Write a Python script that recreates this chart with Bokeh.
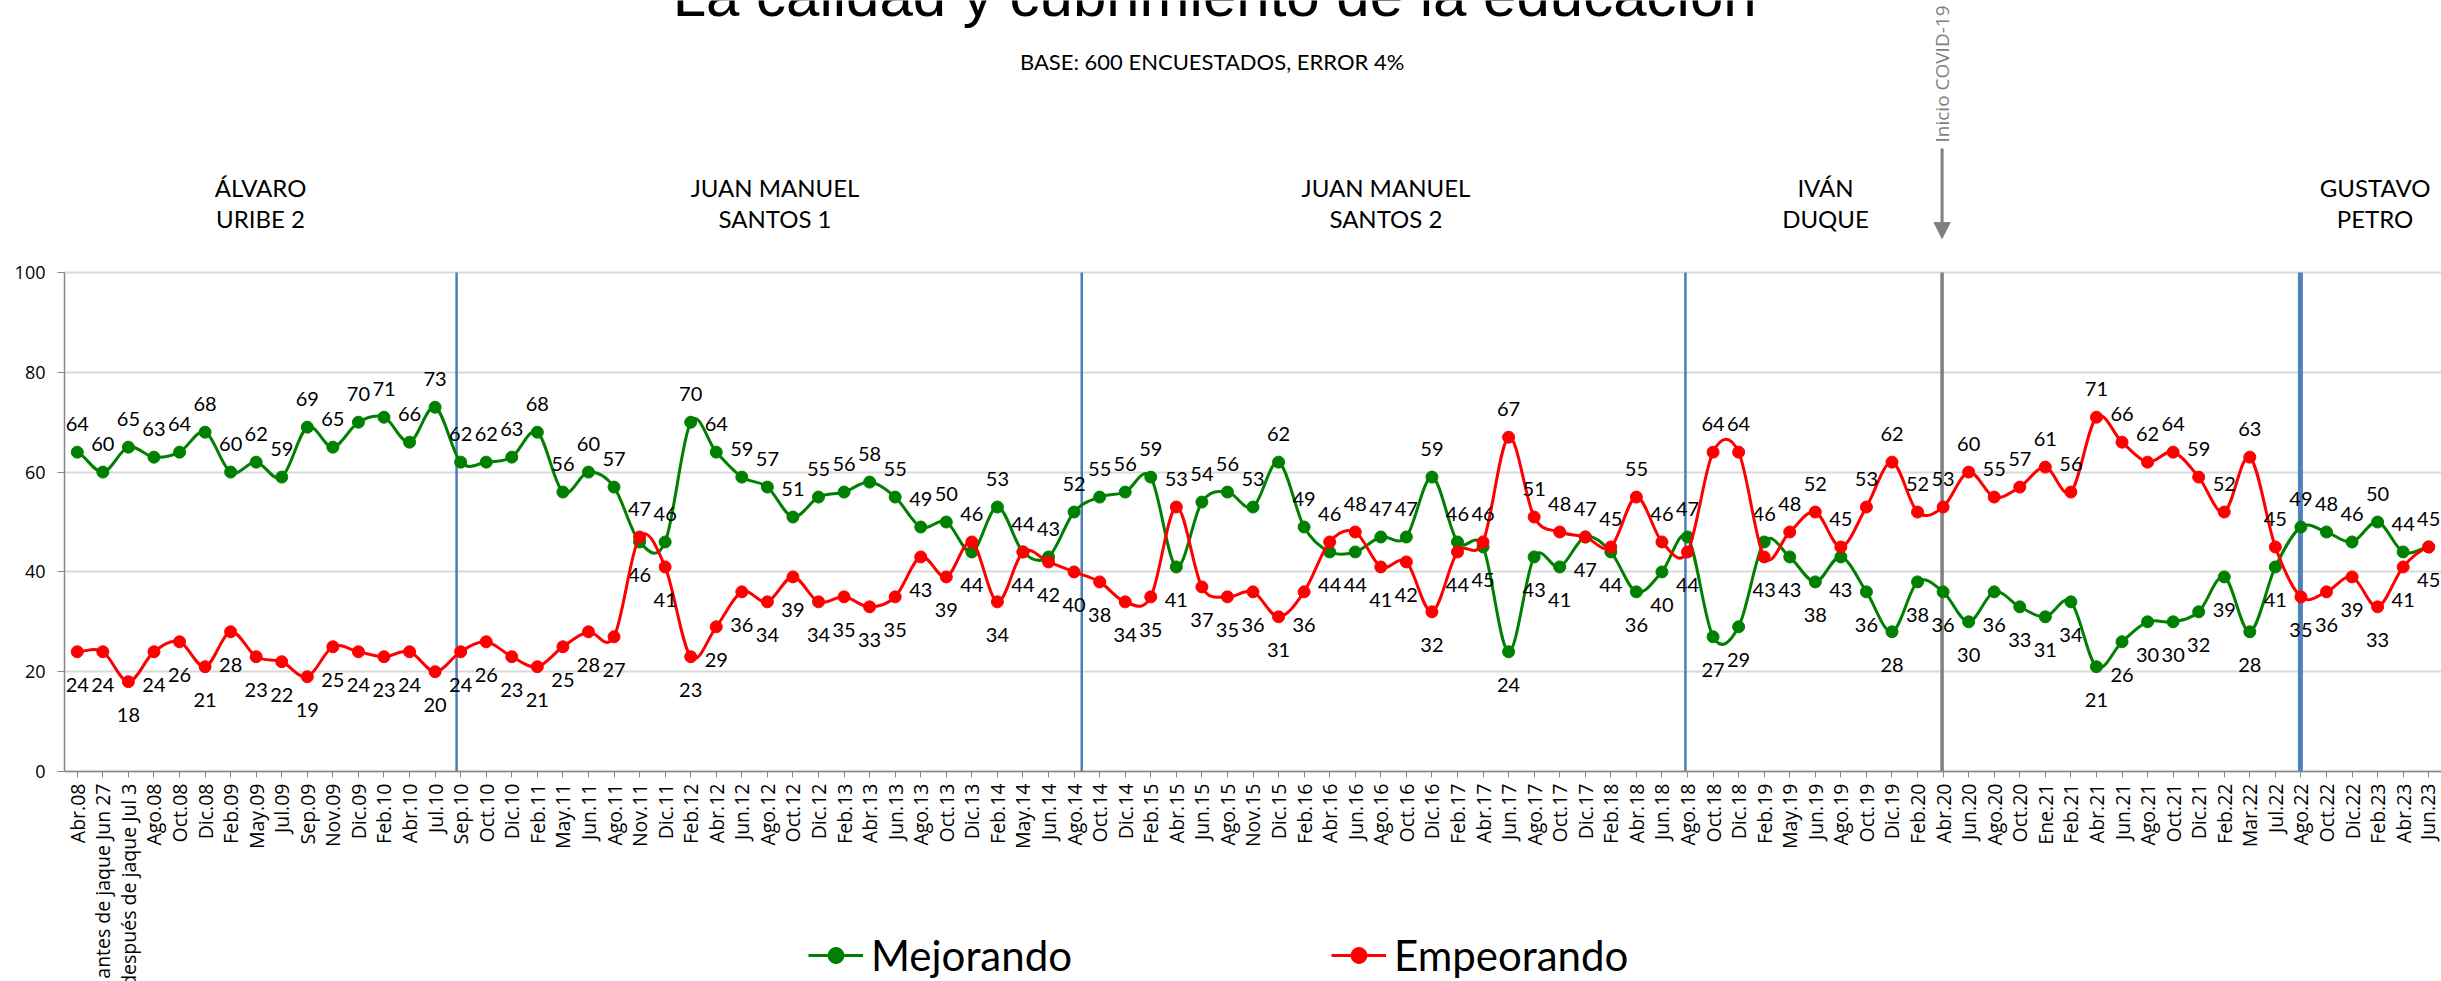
import math
from bokeh.plotting import figure
from bokeh.models import (ColumnDataSource, FactorRange, Range1d, Legend, LegendItem,
                          Arrow, NormalHead, FixedTicker)
from bokeh.core.properties import value
from bokeh.embed import file_html
from bokeh.resources import INLINE

# ---------------- data ----------------
categories = [
    "Abr.08", "antes de jaque Jun 27", "después de jaque Jul 3", "Ago.08", "Oct.08", "Dic.08",
    "Feb.09", "May.09", "Jul.09", "Sep.09", "Nov.09", "Dic.09", "Feb.10", "Abr.10", "Jul.10",
    "Sep.10", "Oct.10", "Dic.10", "Feb.11", "May.11", "Jun.11", "Ago.11", "Nov.11", "Dic.11",
    "Feb.12", "Abr.12", "Jun.12", "Ago.12", "Oct.12", "Dic.12", "Feb.13", "Abr.13", "Jun.13",
    "Ago.13", "Oct.13", "Dic.13", "Feb.14", "May.14", "Jun.14", "Ago.14", "Oct.14", "Dic.14",
    "Feb.15", "Abr.15", "Jun.15", "Ago.15", "Nov.15", "Dic.15", "Feb.16", "Abr.16", "Jun.16",
    "Ago.16", "Oct.16", "Dic.16", "Feb.17", "Abr.17", "Jun.17", "Ago.17", "Oct.17", "Dic.17",
    "Feb.18", "Abr.18", "Jun.18", "Ago.18", "Oct.18", "Dic.18", "Feb.19", "May.19", "Jun.19",
    "Ago.19", "Oct.19", "Dic.19", "Feb.20", "Abr.20", "Jun.20", "Ago.20", "Oct.20", "Ene.21",
    "Feb.21", "Abr.21", "Jun.21", "Ago.21", "Oct.21", "Dic.21", "Feb.22", "Mar.22", "Jul.22",
    "Ago.22", "Oct.22", "Dic.22", "Feb.23", "Abr.23", "Jun.23",
]

mejorando = [
    64, 60, 65, 63, 64, 68, 60, 62, 59, 69, 65, 70, 71, 66, 73,
    62, 62, 63, 68, 56, 60, 57, 46, 46,
    70, 64, 59, 57, 51, 55, 56, 58, 55, 49, 50, 44, 53, 44, 43,
    52, 55, 56, 59, 41, 54, 56, 53, 62, 49, 44, 44, 47, 47, 59, 46, 45, 24, 43, 41, 47,
    44, 36, 40, 47,
    27, 29, 46, 43, 38, 43, 36, 28, 38,
    36, 30, 36, 33, 31, 34, 21, 26, 30, 30, 32, 39, 28, 41,
    49, 48, 46, 50, 44, 45,
]

empeorando = [
    24, 24, 18, 24, 26, 21, 28, 23, 22, 19, 25, 24, 23, 24, 20,
    24, 26, 23, 21, 25, 28, 27, 47, 41,
    23, 29, 36, 34, 39, 34, 35, 33, 35, 43, 39, 46, 34, 44, 42,
    40, 38, 34, 35, 53, 37, 35, 36, 31, 36, 46, 48, 41, 42, 32, 44, 46, 67, 51, 48, 47,
    45, 55, 46, 44,
    64, 64, 43, 48, 52, 45, 53, 62, 52,
    53, 60, 55, 57, 61, 56, 71, 66, 62, 64, 59, 52, 63, 45,
    35, 36, 39, 33, 41, 45,
]

series_names = ["Mejorando", "Empeorando"]
y_ticks = [0, 20, 40, 60, 80, 100]

presidents_l1 = ["ÁLVARO", "JUAN MANUEL", "JUAN MANUEL", "IVÁN", "GUSTAVO"]
presidents_l2 = ["URIBE 2", "SANTOS 1", "SANTOS 2", "DUQUE", "PETRO"]
era_start = ["Sep.10", "Ago.14", "Ago.18", "Ago.22"]
covid_start = "Abr.20"

title_text = "La calidad y cubrimiento de la educación"
subtitle_text = "BASE: 600 ENCUESTADOS, ERROR 4%"
covid_text = "Inicio COVID-19"

# ---------------- layout / styling ----------------
GREEN = "#008000"
RED = "#FF0000"
n = len(categories)


def fx(s):
    """synthetic categorical position -> (factor, offset)"""
    i = min(max(int(s), 0), n - 1)
    return (categories[i], s - i - 0.5)


p = figure(
    x_range=FactorRange(factors=categories, range_padding=0),
    y_range=Range1d(-42.08, 154.51),
    width=2441, height=981,
    output_backend="svg", toolbar_location=None,
    min_border_left=64, min_border_right=0, min_border_top=0, min_border_bottom=0,
)
p.outline_line_color = None
p.xgrid.visible = False
p.ygrid.ticker = FixedTicker(ticks=y_ticks)
p.ygrid.grid_line_color = "#d9d9d9"
p.ygrid.grid_line_width = 2

p.yaxis.ticker = FixedTicker(ticks=y_ticks)
p.yaxis.bounds = (0, 100)
p.yaxis.axis_line_color = "#868686"
p.yaxis.axis_line_width = 1.5
p.yaxis.major_tick_line_color = "#868686"
p.yaxis.major_tick_out = 7
p.yaxis.major_tick_in = 0
p.yaxis.minor_tick_line_color = None
p.yaxis.major_label_text_font = "Open Sans"
p.yaxis.major_label_text_font_size = "18px"
p.yaxis.major_label_text_color = "#000000"
p.yaxis.major_label_standoff = 12

p.xaxis.fixed_location = 0
p.xaxis.axis_line_color = "#868686"
p.xaxis.axis_line_width = 1.5
p.xaxis.major_tick_line_color = "#868686"
p.xaxis.major_tick_out = 6
p.xaxis.major_tick_in = 0
p.xaxis.major_label_orientation = math.pi / 2
p.xaxis.major_label_text_font = "Open Sans"
p.xaxis.major_label_text_font_size = "19.5px"
p.xaxis.major_label_text_color = "#000000"
p.xaxis.major_label_standoff = 6

# era separators (from y=0 to y=100)
sep_src = ColumnDataSource(dict(
    x=[(era_start[0], -0.16), (era_start[1], 0.3), (era_start[2], -0.08),
       (covid_start, -0.04), (era_start[3], -0.02)],
    y0=[0] * 5, y1=[100] * 5,
    c=["#4a7ebb", "#4a7ebb", "#4a7ebb", "#808080", "#4f81bd"],
    w=[2.5, 2.5, 2.5, 3.5, 5],
))
p.segment(x0="x", x1="x", y0="y0", y1="y1", line_color="c", line_width="w", source=sep_src)


def curve_source(vals):
    d = dict(x0=[], x1=[], cx0=[], cx1=[], y0=[], y1=[], cy0=[], cy1=[])
    for i in range(n - 1):
        a = vals[i - 1] if i > 0 else vals[i]
        b = vals[i]
        c = vals[i + 1]
        e = vals[i + 2] if i + 2 < n else vals[i + 1]
        d["x0"].append(categories[i])
        d["x1"].append(categories[i + 1])
        d["cx0"].append((categories[i], 1 / 3))
        d["cx1"].append((categories[i + 1], -1 / 3))
        d["y0"].append(b)
        d["y1"].append(c)
        d["cy0"].append(b + (c - a) / 6)
        d["cy1"].append(c - (e - b) / 6)
    return ColumnDataSource(d)


renderers = {}
for name, vals, other, col in [("Mejorando", mejorando, empeorando, GREEN),
                               ("Empeorando", empeorando, mejorando, RED)]:
    curve = p.bezier(x0="x0", y0="y0", x1="x1", y1="y1", cx0="cx0", cy0="cy0",
                     cx1="cx1", cy1="cy1", source=curve_source(vals),
                     line_color=col, line_width=3)
    pts = p.scatter(x=categories, y=vals, size=12, fill_color=col, line_color=col)
    renderers[name] = [curve, pts]
    if name == "Mejorando":
        offs = [-28 if v >= o else 33 for v, o in zip(vals, other)]
    else:
        offs = [-28 if v > o else 33 for v, o in zip(vals, other)]
    lsrc = ColumnDataSource(dict(x=categories, y=vals, t=[str(v) for v in vals], off=offs))
    p.text(x="x", y="y", text="t", y_offset="off", source=lsrc, text_align="center",
           text_baseline="middle", text_font=value("Lato"), text_font_size="20px",
           text_color="#000000")

legend = Legend(
    items=[LegendItem(label=nm, renderers=renderers[nm]) for nm in series_names],
    location=(744, 1), orientation="horizontal", spacing=259,
    glyph_width=55, glyph_height=40, label_height=40, label_standoff=8,
    label_text_font="Lato", label_text_font_size="42px", label_text_color="#000000",
    border_line_color=None, background_fill_alpha=0, padding=0, margin=0,
)
p.add_layout(legend)

# title & subtitle
p.text(x=[fx(45.0)], y=[151.9], y_offset=-18, text=[title_text],
       text_font=value("Liberation Sans"), text_font_size="60px", text_align="center",
       text_baseline="alphabetic", text_color="#000000")
p.text(x=[fx(44.9)], y=[142.3], text=[subtitle_text], text_font=value("Lato"),
       text_font_size="22px", text_align="center", text_baseline="middle",
       text_color="#000000")

# president headers
pres_x = [fx(s) for s in [7.67, 27.8, 51.7, 68.9, 90.4]]
p.text(x=pres_x, y=[117.0] * 5, text=presidents_l1, text_font=value("Lato"),
       text_font_size="24px", text_align="center", text_baseline="middle",
       text_color="#000000")
p.text(x=pres_x, y=[110.8] * 5, text=presidents_l2, text_font=value("Lato"),
       text_font_size="24px", text_align="center", text_baseline="middle",
       text_color="#000000")

# COVID marker
cx = (covid_start, -0.04)
p.text(x=[cx], y=[126.05], text=[covid_text], angle=math.pi / 2, text_font=value("Open Sans"),
       text_font_size="19px", text_align="left", text_baseline="middle", text_color="#7f7f7f")
arrow_src = ColumnDataSource(dict(xs=[cx], ys=[124.85], xe=[cx], ye=[106.8]))
p.add_layout(Arrow(source=arrow_src, x_start="xs", y_start="ys", x_end="xe", y_end="ye",
                   line_color="#7f7f7f", line_width=3,
                   end=NormalHead(size=16, fill_color="#7f7f7f", line_color="#7f7f7f")))

open("out.html", "w").write(file_html(p, INLINE))
